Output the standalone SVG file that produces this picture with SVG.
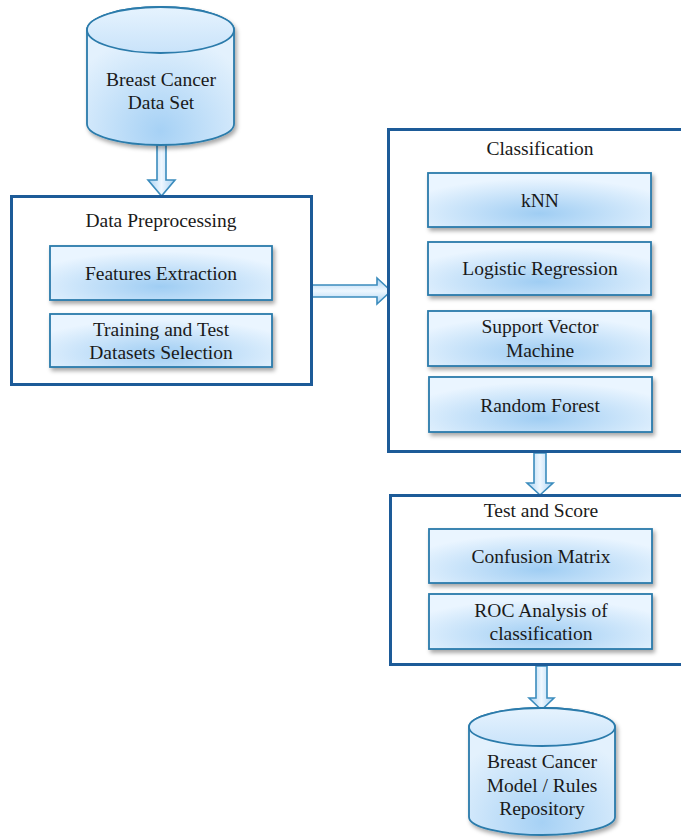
<svg xmlns="http://www.w3.org/2000/svg" width="681" height="840" viewBox="0 0 681 840">
  <defs>
    <radialGradient id="boxFill" cx="0.5" cy="0.75" r="0.65">
      <stop offset="0" stop-color="#9fcdf3"/>
      <stop offset="1" stop-color="#eaf5ff"/>
    </radialGradient>
    <radialGradient id="cylFill" cx="0.5" cy="0.9" r="0.7">
      <stop offset="0" stop-color="#a6d1f5"/>
      <stop offset="1" stop-color="#e3f1fd"/>
    </radialGradient>
    <linearGradient id="topFill" x1="0" y1="0" x2="0" y2="1">
      <stop offset="0" stop-color="#e6f3fe"/>
      <stop offset="1" stop-color="#c9e3fa"/>
    </linearGradient>
    <linearGradient id="arrowV" x1="0" y1="0" x2="1" y2="0">
      <stop offset="0" stop-color="#a9d2f2"/>
      <stop offset="0.5" stop-color="#eef7ff"/>
      <stop offset="1" stop-color="#a9d2f2"/>
    </linearGradient>
    <linearGradient id="arrowH" x1="0" y1="0" x2="0" y2="1">
      <stop offset="0" stop-color="#a9d2f2"/>
      <stop offset="0.5" stop-color="#eef7ff"/>
      <stop offset="1" stop-color="#a9d2f2"/>
    </linearGradient>
    <filter id="shadow" x="-10%" y="-20%" width="125%" height="150%">
      <feDropShadow dx="2" dy="3" stdDeviation="2" flood-color="#000" flood-opacity="0.35"/>
    </filter>
  </defs>
  <style>
    text { font-family: "Liberation Serif", "Times New Roman", serif; font-size: 19.5px; fill: #1a1a1a; text-anchor: middle; }
    .frame { fill: #ffffff; stroke: #1d5b98; stroke-width: 3; }
    .item { fill: url(#boxFill); stroke: #2b7bab; stroke-width: 1.8; filter: url(#shadow); }
    .cyl { fill: url(#cylFill); stroke: #2b7bab; stroke-width: 1.8; filter: url(#shadow); }
    .cyltop { fill: url(#topFill); stroke: #2b7bab; stroke-width: 1.8; }
    .arrow-v { fill: url(#arrowV); stroke: #3b8cbd; stroke-width: 1.6; }
    .arrow-h { fill: url(#arrowH); stroke: #3b8cbd; stroke-width: 1.6; }
  </style>

  <rect width="681" height="840" fill="#ffffff"/>

  <!-- Connectors -->
  <g id="connectors">
    <polygon class="arrow-v" points="157,143 166,143 166,180 175,180 161.5,196 148,180 157,180"/>
    <polygon class="arrow-h" points="312,285 377,285 377,278 391,291 377,304 377,297 312,297"/>
    <polygon class="arrow-v" points="534,453 546,453 546,483 553,483 540,495 527,483 534,483"/>
    <polygon class="arrow-v" points="536,666 547,666 547,698 554,698 541.5,710 529,698 536,698"/>
  </g>

  <!-- Source data store -->
  <g id="dataset">
    <path class="cyl" d="M87,30 A73.5,23 0 0 1 234,30 L234,124 A73.5,21 0 0 1 87,124 Z"/>
    <ellipse class="cyltop" cx="160.5" cy="30" rx="73.5" ry="23"/>
    <text x="161" y="86">Breast Cancer</text>
    <text x="161" y="109">Data Set</text>
  </g>

  <!-- Preprocessing stage -->
  <g id="preprocessing">
    <rect class="frame" x="11.5" y="196.5" width="300" height="188"/>
    <text x="161" y="227">Data Preprocessing</text>
    <g id="features">
      <rect class="item" x="50" y="246" width="222" height="54"/>
      <text x="161" y="280">Features Extraction</text>
    </g>
    <g id="split">
      <rect class="item" x="50" y="314" width="222" height="53"/>
      <text x="161" y="336">Training and Test</text>
      <text x="161" y="359">Datasets Selection</text>
    </g>
  </g>

  <!-- Classification stage -->
  <g id="classification">
    <rect class="frame" x="388.5" y="129.5" width="310" height="322"/>
    <text x="540" y="155">Classification</text>
    <g id="knn">
      <rect class="item" x="428" y="173" width="223" height="54"/>
      <text x="540" y="207">kNN</text>
    </g>
    <g id="logreg">
      <rect class="item" x="428" y="242" width="223" height="53"/>
      <text x="540" y="275">Logistic Regression</text>
    </g>
    <g id="svm">
      <rect class="item" x="428" y="311" width="223" height="55"/>
      <text x="540" y="333">Support Vector</text>
      <text x="540" y="357">Machine</text>
    </g>
    <g id="forest">
      <rect class="item" x="429" y="377" width="223" height="55"/>
      <text x="540" y="412">Random Forest</text>
    </g>
  </g>

  <!-- Evaluation stage -->
  <g id="evaluation">
    <rect class="frame" x="390.5" y="495.5" width="310" height="169"/>
    <text x="541" y="517">Test and Score</text>
    <g id="confusion">
      <rect class="item" x="429" y="529" width="223" height="54"/>
      <text x="541" y="563">Confusion Matrix</text>
    </g>
    <g id="roc">
      <rect class="item" x="429" y="594" width="223" height="55"/>
      <text x="541" y="617">ROC Analysis of</text>
      <text x="541" y="640">classification</text>
    </g>
  </g>

  <!-- Output repository -->
  <g id="repository">
    <path class="cyl" d="M469,727 A73,19 0 0 1 615,727 L615,817 A73,18 0 0 1 469,817 Z"/>
    <ellipse class="cyltop" cx="542" cy="727" rx="73" ry="19"/>
    <text x="542" y="768">Breast Cancer</text>
    <text x="542" y="792">Model / Rules</text>
    <text x="542" y="815">Repository</text>
  </g>
</svg>
